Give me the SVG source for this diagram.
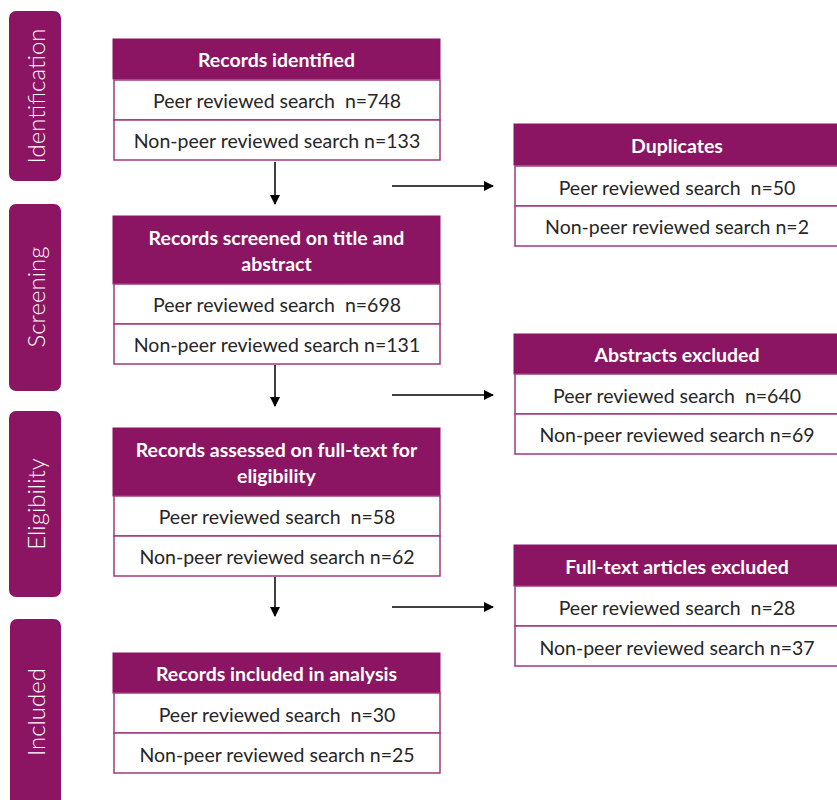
<svg xmlns="http://www.w3.org/2000/svg" width="837" height="800" viewBox="0 0 837 800">
<style>
.side{fill:#8B1562}
.sidet{fill:#fff;font-family:Lato,"Open Sans",sans-serif;font-size:24px;font-weight:300;text-anchor:middle;dominant-baseline:central}
.hd{fill:#8B1562;stroke:#8B1562;stroke-width:1}
.row{fill:#fff;stroke:#9E3A7E;stroke-width:1.5}
.ht{fill:#fff;font-family:Lato,"Open Sans",sans-serif;font-size:19.500px;font-weight:bold;text-anchor:middle;dominant-baseline:central}
.rt{fill:#262626;font-family:Lato,"Open Sans",sans-serif;font-size:19.500px;font-weight:400;text-anchor:middle;dominant-baseline:central;white-space:pre}
.cn{stroke:#000;stroke-width:1.5;fill:none;marker-end:url(#ah)}
</style>
<defs>
<marker id="ah" markerWidth="10" markerHeight="10" refX="9" refY="5" orient="auto" markerUnits="userSpaceOnUse">
<path d="M0,0 L10,5 L0,10 Z" fill="#000"/>
</marker>
</defs>
<rect width="837" height="800" fill="#fff"/>
<g id="stage-identification"><rect class="side" x="9" y="11" width="52" height="170" rx="7"/><text class="sidet" transform="translate(35,96) rotate(-90)">Identification</text></g>
<g id="stage-screening"><rect class="side" x="9" y="204" width="52" height="187" rx="7"/><text class="sidet" transform="translate(35,297) rotate(-90)">Screening</text></g>
<g id="stage-eligibility"><rect class="side" x="9" y="411" width="52" height="186" rx="7"/><text class="sidet" transform="translate(35,504) rotate(-90)">Eligibility</text></g>
<g id="stage-included"><rect class="side" x="10" y="619" width="51" height="200" rx="7"/><text class="sidet" transform="translate(35,712) rotate(-90)">Included</text></g>

<g id="records-identified">
<rect class="hd" x="113" y="39" width="327" height="40"/>
<text class="ht" x="276.500" y="59">Records identified</text>
<rect class="row" x="114" y="80" width="326" height="40"/>
<text class="rt" x="277" y="100" xml:space="preserve">Peer reviewed search  n=748</text>
<rect class="row" x="114" y="120" width="326" height="40"/>
<text class="rt" x="277" y="140">Non-peer reviewed search n=133</text>
</g>
<g id="records-screened">
<rect class="hd" x="113" y="216" width="327" height="68"/>
<text class="ht" x="276.500" y="237">Records screened on title and</text>
<text class="ht" x="276.500" y="263">abstract</text>
<rect class="row" x="114" y="284" width="326" height="40"/>
<text class="rt" x="277" y="304" xml:space="preserve">Peer reviewed search  n=698</text>
<rect class="row" x="114" y="324" width="326" height="40"/>
<text class="rt" x="277" y="344">Non-peer reviewed search n=131</text>
</g>
<g id="records-assessed">
<rect class="hd" x="113" y="428" width="327" height="68"/>
<text class="ht" x="276.500" y="449">Records assessed on full-text for</text>
<text class="ht" x="276.500" y="475">eligibility</text>
<rect class="row" x="114" y="496" width="326" height="40"/>
<text class="rt" x="277" y="516" xml:space="preserve">Peer reviewed search  n=58</text>
<rect class="row" x="114" y="536" width="326" height="40"/>
<text class="rt" x="277" y="556">Non-peer reviewed search n=62</text>
</g>
<g id="records-included">
<rect class="hd" x="113" y="653" width="327" height="40"/>
<text class="ht" x="276.500" y="673">Records included in analysis</text>
<rect class="row" x="114" y="693" width="326" height="40"/>
<text class="rt" x="277" y="714" xml:space="preserve">Peer reviewed search  n=30</text>
<rect class="row" x="114" y="733" width="326" height="40"/>
<text class="rt" x="277" y="754">Non-peer reviewed search n=25</text>
</g>
<g id="duplicates">
<rect class="hd" x="514" y="124" width="324" height="41"/>
<text class="ht" x="677" y="145">Duplicates</text>
<rect class="row" x="515" y="166" width="324" height="40"/>
<text class="rt" x="677" y="187" xml:space="preserve">Peer reviewed search  n=50</text>
<rect class="row" x="515" y="206" width="324" height="40"/>
<text class="rt" x="677" y="226">Non-peer reviewed search n=2</text>
</g>
<g id="abstracts-excluded">
<rect class="hd" x="514" y="334" width="324" height="40"/>
<text class="ht" x="677" y="354">Abstracts excluded</text>
<rect class="row" x="515" y="374" width="324" height="40"/>
<text class="rt" x="677" y="395" xml:space="preserve">Peer reviewed search  n=640</text>
<rect class="row" x="515" y="414" width="324" height="40"/>
<text class="rt" x="677" y="434">Non-peer reviewed search n=69</text>
</g>
<g id="fulltext-excluded">
<rect class="hd" x="514" y="545" width="324" height="41"/>
<text class="ht" x="677" y="566">Full-text articles excluded</text>
<rect class="row" x="515" y="586" width="324" height="40"/>
<text class="rt" x="677" y="607" xml:space="preserve">Peer reviewed search  n=28</text>
<rect class="row" x="515" y="626" width="324" height="40"/>
<text class="rt" x="677" y="647">Non-peer reviewed search n=37</text>
</g>
<g id="connectors">
<line class="cn" x1="275" y1="162" x2="275" y2="204"/>
<line class="cn" x1="275" y1="365" x2="275" y2="406"/>
<line class="cn" x1="275" y1="577" x2="275" y2="616"/>
<line class="cn" x1="392" y1="186" x2="493" y2="186"/>
<line class="cn" x1="392" y1="395" x2="493" y2="395"/>
<line class="cn" x1="392" y1="607" x2="493" y2="607"/>
</g>
</svg>
